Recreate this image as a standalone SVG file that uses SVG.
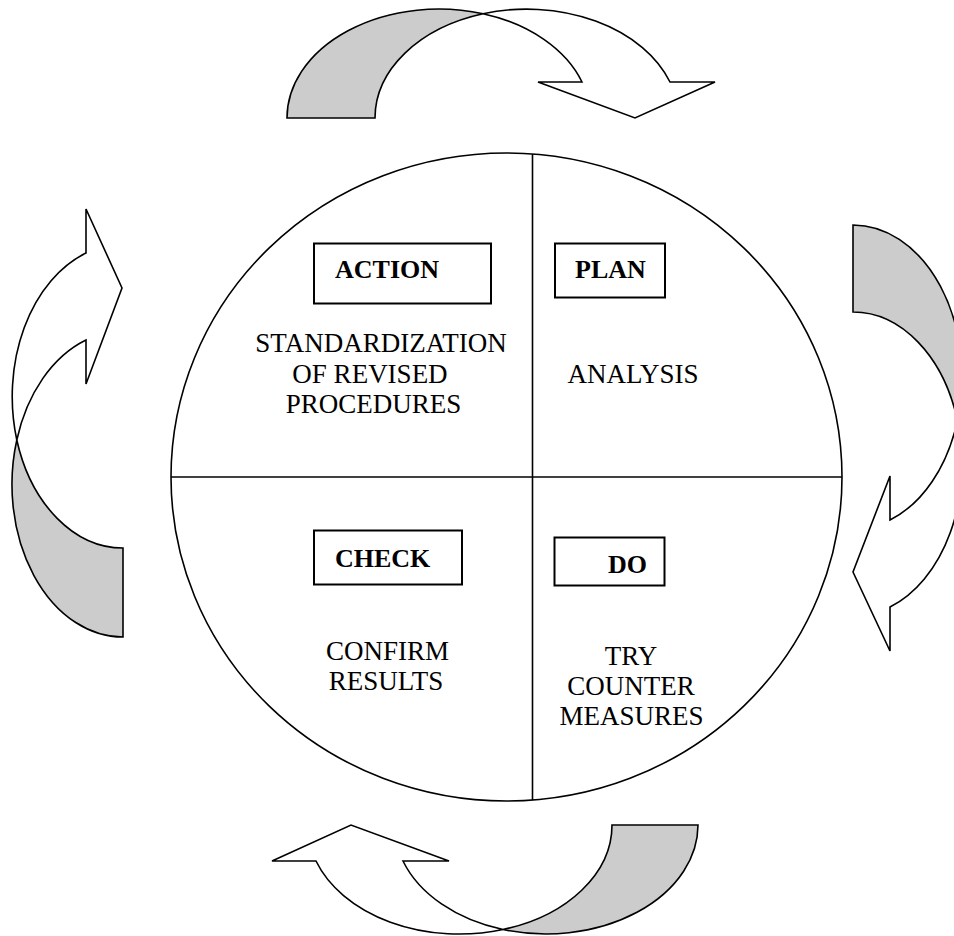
<svg xmlns="http://www.w3.org/2000/svg" width="954" height="936" viewBox="0 0 954 936">
  <style>
    .line { fill: none; stroke: #000; stroke-width: 1.6; }
    .band { fill: #cccccc; stroke: #000; stroke-width: 1.6; stroke-linejoin: miter; }
    .arrow { fill: #ffffff; stroke: #000; stroke-width: 1.6; stroke-linejoin: miter; }
    .box { fill: #ffffff; stroke: #000; stroke-width: 2; }
    .head { font-family: "Liberation Serif", "Times New Roman", serif; font-weight: bold; font-size: 26px; fill: #000; }
    .body { font-family: "Liberation Serif", "Times New Roman", serif; font-size: 27px; fill: #000; text-anchor: middle; }
  </style>
  <rect width="954" height="936" fill="#ffffff"/>

  <!-- cycle wheel split into four quadrants -->
  <g id="wheel">
    <ellipse class="line" cx="506.5" cy="477" rx="335.5" ry="324"/>
    <line class="line" x1="171" y1="477" x2="842" y2="477"/>
    <line class="line" x1="532.5" y1="154" x2="532.5" y2="800"/>
  </g>

  <!-- curved arrows running round the wheel -->
  <g id="connectors">
    <g id="arrow-top">
      <path class="arrow" d="M 483,13.7 A 152 109 0 0 1 670,82 L 715,82 L 635,118 L 538,82 L 582,82 A 152 109 0 0 0 483,13.7 Z"/>
      <path class="band" d="M 287,118 A 152 109 0 0 1 483,13.7 A 152 109 0 0 0 375,118 Z"/>
    </g>
    <g id="arrow-right">
      <path class="arrow" d="M 957.4,420.5 A 109 152 0 0 1 890,607 L 890,651 L 853,572 L 890,476 L 890,520 A 109 152 0 0 0 957.4,420.5 Z"/>
      <path class="band" d="M 853,225 A 109 152 0 0 1 957.4,420.5 A 109 152 0 0 0 853,312 Z"/>
    </g>
    <g id="arrow-bottom">
      <path class="arrow" d="M 503,929.5 A 152 109 0 0 1 316,861 L 272,861 L 351,825 L 449,861 L 403,861 A 152 109 0 0 0 503,929.5 Z"/>
      <path class="band" d="M 698,825 A 152 109 0 0 1 503,929.5 A 152 109 0 0 0 612,825 Z"/>
    </g>
    <g id="arrow-left">
      <path class="arrow" d="M 16.8,440 A 111 152.5 0 0 1 86,253 L 86,209 L 122,288 L 86,384 L 86,340 A 111 152.5 0 0 0 16.8,440 Z"/>
      <path class="band" d="M 123,637 A 111 152.5 0 0 1 16.8,440 A 111 152.5 0 0 0 123,548 Z"/>
    </g>
  </g>

  <!-- quadrant: ACTION -->
  <g id="action">
    <rect class="box" x="314" y="243.5" width="177" height="60"/>
    <text class="head" x="335" y="278">ACTION</text>
    <text class="body" x="381" y="352">STANDARDIZATION</text>
    <text class="body" x="370" y="383">OF REVISED</text>
    <text class="body" x="373.5" y="413">PROCEDURES</text>
  </g>

  <!-- quadrant: PLAN -->
  <g id="plan">
    <rect class="box" x="555" y="243.5" width="110" height="54"/>
    <text class="head" x="575" y="278">PLAN</text>
    <text class="body" x="633" y="383">ANALYSIS</text>
  </g>

  <!-- quadrant: CHECK -->
  <g id="check">
    <rect class="box" x="314" y="530.5" width="148" height="54"/>
    <text class="head" x="335" y="567">CHECK</text>
    <text class="body" x="387.5" y="660">CONFIRM</text>
    <text class="body" x="386" y="690">RESULTS</text>
  </g>

  <!-- quadrant: DO -->
  <g id="do">
    <rect class="box" x="554.5" y="537.5" width="110" height="48"/>
    <text class="head" x="608" y="573">DO</text>
    <text class="body" x="631" y="665">TRY</text>
    <text class="body" x="631" y="695">COUNTER</text>
    <text class="body" x="631.5" y="725">MEASURES</text>
  </g>
</svg>
